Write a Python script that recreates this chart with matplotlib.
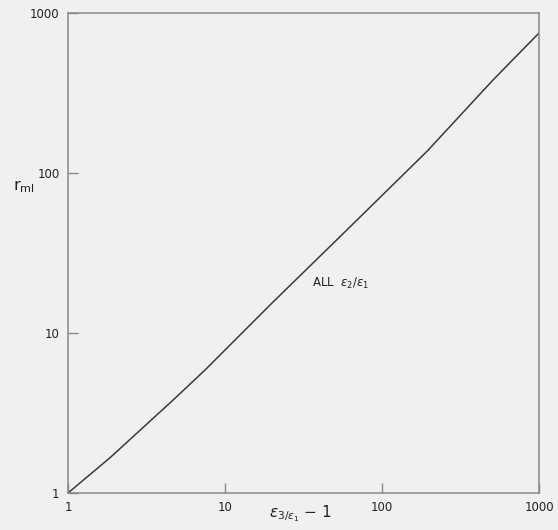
import matplotlib
matplotlib.use("Agg")
import matplotlib.pyplot as plt

# Data (log-log curve)
x_vals = [1, 1.85, 4.67, 7.46, 19.4, 59.8, 194, 509, 1000]
y_vals = [1, 1.66, 3.81, 5.87, 15.0, 44.1, 137, 381, 750]

tick_vals = [1, 10, 100, 1000]
tick_labels = ["1", "10", "100", "1000"]

bg = "#f0f0f0"
fig = plt.figure(figsize=(5.58, 5.30), dpi=100, facecolor=bg)
ax = fig.add_axes([68/558, 37/530, 471/558, 480/530], facecolor=bg)

ax.plot(x_vals, y_vals, color="#3a3a3a", lw=1.1)
ax.set_xscale("log")
ax.set_yscale("log")
ax.set_xlim(1, 1000)
ax.set_ylim(1, 1000)

ax.set_xticks(tick_vals)
ax.set_xticklabels(tick_labels)
ax.set_yticks(tick_vals)
ax.set_yticklabels(tick_labels)
ax.minorticks_off()
ax.tick_params(direction="in", length=7, width=1, color="#888888",
               labelsize=8.5, labelcolor="#222222", pad=6)

for s in ax.spines.values():
    s.set_color("#8a8a8a")
    s.set_linewidth(1.1)

fig.text(300/558, 1 - 514/530, r"$\epsilon_{3/\epsilon_1}$ $-$ 1", fontsize=11,
         color="#222222", ha="center", va="center")
fig.text(13/558, 1 - 187/530, r"r$_\mathregular{ml}$", fontsize=11.5,
         color="#222222", ha="left", va="center")

ax.text(0.517, 0.437, r"ALL  $\epsilon_2/\epsilon_1$", transform=ax.transAxes,
        fontsize=8.5, color="#222222", ha="left", va="center")

fig.savefig("out.png", dpi=100, facecolor=bg)
